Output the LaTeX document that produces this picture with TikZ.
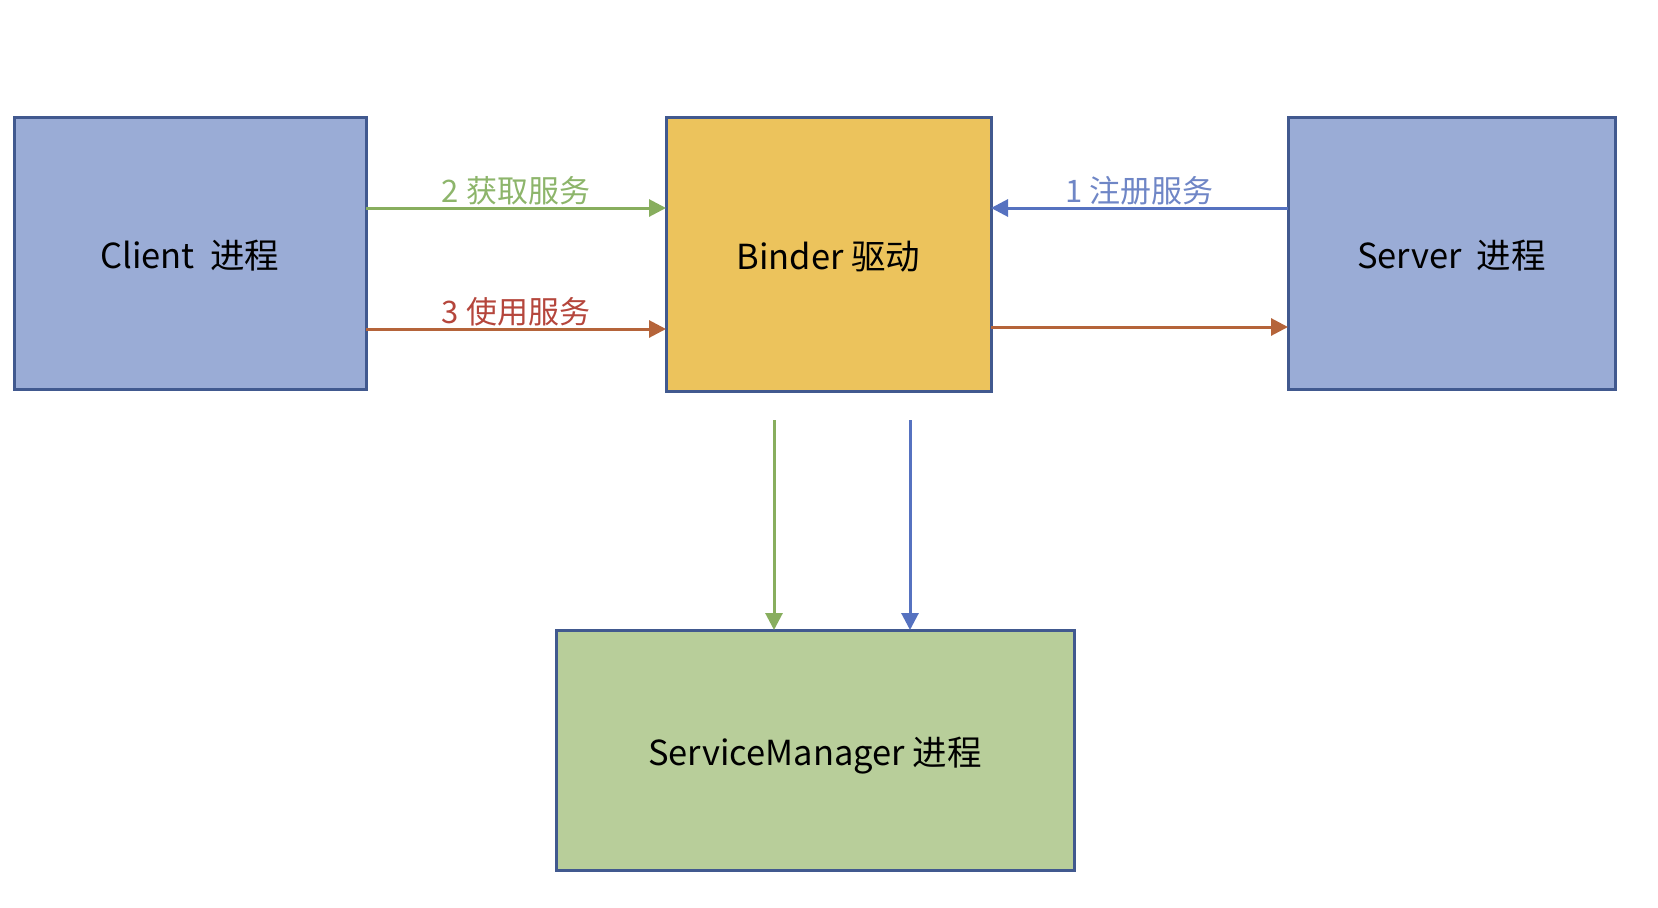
\documentclass[tikz,border=0pt]{standalone}
\usepackage{fontspec}
\setmainfont{Noto Sans CJK SC}
\usetikzlibrary{arrows.meta}
\definecolor{bordercol}{HTML}{41598F}
\definecolor{procfill}{HTML}{9AACD6}
\definecolor{binderfill}{HTML}{ECC35C}
\definecolor{smfill}{HTML}{B8CE9A}
\definecolor{gline}{HTML}{88AE5E}
\definecolor{bline}{HTML}{5672C0}
\definecolor{rline}{HTML}{B5643A}
\definecolor{glabel}{HTML}{8DB56B}
\definecolor{blabel}{HTML}{6F86C6}
\definecolor{rlabel}{HTML}{B5463C}
\tikzset{
  box/.style={draw=bordercol, line width=3pt, rectangle, inner sep=0pt, outer sep=0pt,
    text height=31pt, text depth=0pt,
    font=\fontsize{34.5}{42}\selectfont, text=black},
  conn/.style={line width=3pt, -{Triangle[length=17pt,width=17pt]}},
  lbl/.style={midway, anchor=base, yshift=6pt, inner sep=0pt, font=\fontsize{31}{37}\selectfont}
}
\begin{document}
\begin{tikzpicture}[x=1pt,y=-1pt]
\useasboundingbox (0,0) rectangle (1658,908);
\node[box, fill=procfill, minimum width=352pt, minimum height=272pt] (client) at (190,253) {Client~~进程};
\node[box, fill=binderfill, minimum width=325pt, minimum height=274pt] (binder) at (828.5,254) {Binder 驱动};
\node[box, fill=procfill, minimum width=327pt, minimum height=272pt] (server) at (1451.5,253) {Server~~进程};
\node[box, fill=smfill, minimum width=518pt, minimum height=240pt] (sm) at (815,750) {ServiceManager 进程};
\coordinate (ytop) at (0,208);
\coordinate (ybotl) at (0,329);
\coordinate (ybotr) at (0,327);
\coordinate (gstart) at (774,420);
\coordinate (bstart) at (910,420);
\draw[conn, gline] (client.east |- ytop) -- (binder.west |- ytop) node[lbl, text=glabel] {2 获取服务};
\draw[conn, rline] (client.east |- ybotl) -- (binder.west |- ybotl) node[lbl, text=rlabel] {3 使用服务};
\draw[conn, bline] (server.west |- ytop) -- (binder.east |- ytop) node[lbl, text=blabel] {1 注册服务};
\draw[conn, rline] (binder.east |- ybotr) -- (server.west |- ybotr);
\draw[conn, gline] (gstart) -- (sm.north -| gstart);
\draw[conn, bline] (bstart) -- (sm.north -| bstart);
\end{tikzpicture}
\end{document}
